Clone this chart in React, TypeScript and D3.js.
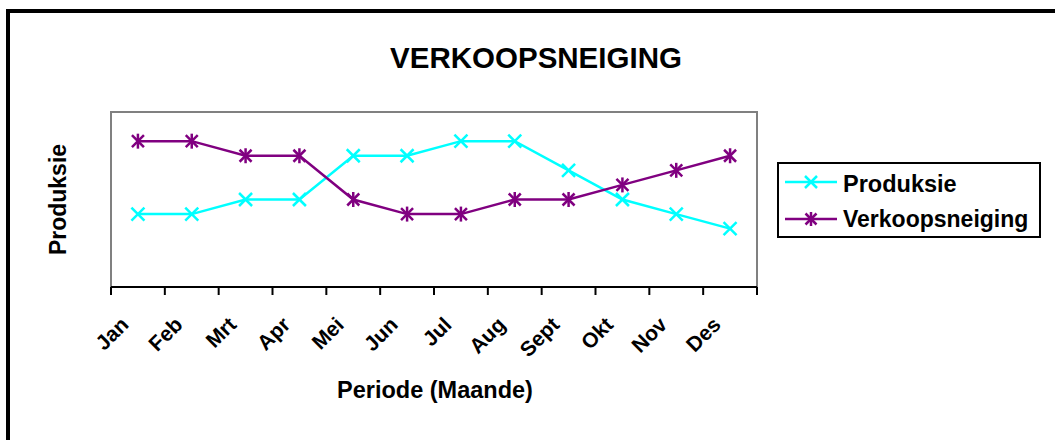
import React from "react";
import * as d3 from "d3";

const months = ["Jan", "Feb", "Mrt", "Apr", "Mei", "Jun", "Jul", "Aug", "Sept", "Okt", "Nov", "Des"];
const produksie = [5, 5, 6, 6, 9, 9, 10, 10, 8, 6, 5, 4];
const verkoopsneiging = [10, 10, 9, 9, 6, 5, 5, 6, 6, 7, 8, 9];
const seriesNames = ["Produksie", "Verkoopsneiging"];
const title = "VERKOOPSNEIGING";
const xTitle = "Periode (Maande)";
const yTitle = "Produksie";

const W = 1055;
const H = 440;
const plot = { left: 111, right: 757, top: 112, bottom: 287 };
const FONT = "'Liberation Sans', Arial, Helvetica, sans-serif";
const CYAN = "#00FFFF";
const PURPLE = "#800080";

function XMarker({ x, y, color, r = 6.5 }: { x: number; y: number; color: string; r?: number }) {
  return (
    <g stroke={color} strokeWidth={2.5}>
      <line x1={x - r} y1={y - r} x2={x + r} y2={y + r} />
      <line x1={x - r} y1={y + r} x2={x + r} y2={y - r} />
    </g>
  );
}

function StarMarker({ x, y, color, r = 6 }: { x: number; y: number; color: string; r?: number }) {
  return (
    <g stroke={color} strokeWidth={2.5}>
      <line x1={x - r} y1={y - r} x2={x + r} y2={y + r} />
      <line x1={x - r} y1={y + r} x2={x + r} y2={y - r} />
      <line x1={x} y1={y - r - 1.5} x2={x} y2={y + r + 1.5} />
    </g>
  );
}

export default function App() {
  const x = d3.scaleBand<string>().domain(months).range([plot.left, plot.right]).padding(0);
  const y = d3.scaleLinear().domain([0, 12]).range([plot.bottom, plot.top]);
  const cx = (m: string) => (x(m) as number) + x.bandwidth() / 2;

  const line = d3
    .line<number>()
    .x((_, i) => cx(months[i]))
    .y((d) => y(d));

  const tickXs = months.map((m) => x(m) as number).concat([plot.right]);

  return (
    <svg
      width={W}
      height={H}
      style={{ position: "absolute", left: 0, top: 0, background: "#fff" }}
      fontFamily={FONT}
    >
      <rect x={8} y={11} width={W + 20} height={H + 20} fill="#fff" stroke="#000" strokeWidth={4} />

      <text x={536} y={68} textAnchor="middle" fontSize={29.5} fontWeight="bold">
        {title}
      </text>

      {/* plot area */}
      <rect
        x={plot.left}
        y={plot.top}
        width={plot.right - plot.left}
        height={plot.bottom - plot.top}
        fill="#fff"
        stroke="#808080"
        strokeWidth={2}
      />

      {/* x axis */}
      <line x1={plot.left} x2={plot.right} y1={plot.bottom} y2={plot.bottom} stroke="#000" strokeWidth={2} />
      {tickXs.map((t, i) => (
        <line key={i} x1={t} x2={t} y1={plot.bottom} y2={plot.bottom + 8} stroke="#000" strokeWidth={2} />
      ))}
      {months.map((m) => (
        <text
          key={m}
          transform={`translate(${cx(m) - 8},${plot.bottom + 39}) rotate(-45)`}
          textAnchor="end"
          fontSize={21}
          fontWeight="bold"
        >
          {m}
        </text>
      ))}

      <text x={435} y={398} textAnchor="middle" fontSize={23.5} fontWeight="bold">
        {xTitle}
      </text>
      <text
        transform={`translate(66,${(plot.top + plot.bottom) / 2}) rotate(-90)`}
        textAnchor="middle"
        fontSize={23}
        fontWeight="bold"
      >
        {yTitle}
      </text>

      {/* lines */}
      <path d={line(produksie) || ""} fill="none" stroke={CYAN} strokeWidth={2.5} />
      <path d={line(verkoopsneiging) || ""} fill="none" stroke={PURPLE} strokeWidth={2.5} />
      {produksie.map((v, i) => (
        <XMarker key={"p" + i} x={cx(months[i])} y={y(v)} color={CYAN} />
      ))}
      {verkoopsneiging.map((v, i) => (
        <StarMarker key={"v" + i} x={cx(months[i])} y={y(v)} color={PURPLE} />
      ))}

      {/* legend */}
      <rect x={778} y={163} width={262} height={74} fill="#fff" stroke="#000" strokeWidth={2} />
      <line x1={785} x2={837} y1={182} y2={182} stroke={CYAN} strokeWidth={2.5} />
      <XMarker x={811} y={182} color={CYAN} r={6} />
      <text x={843} y={192} fontSize={23.5} fontWeight="bold">
        {seriesNames[0]}
      </text>
      <line x1={785} x2={837} y1={219} y2={219} stroke={PURPLE} strokeWidth={2.5} />
      <StarMarker x={811} y={219} color={PURPLE} r={5.5} />
      <text x={843} y={227} fontSize={23} fontWeight="bold">
        {seriesNames[1]}
      </text>
    </svg>
  );
}
